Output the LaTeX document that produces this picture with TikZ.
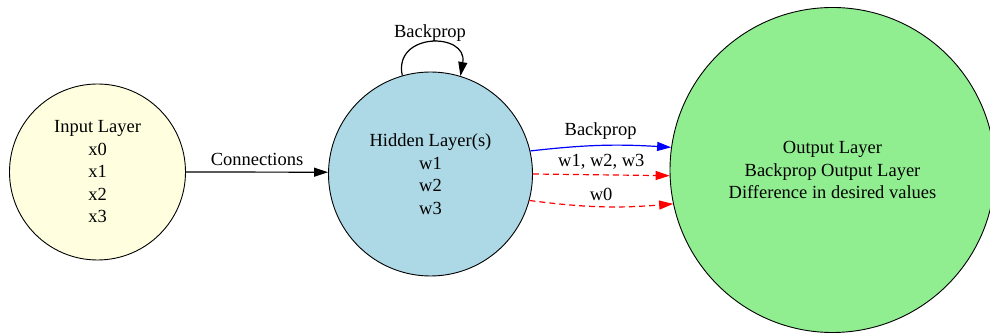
\documentclass[tikz,border=0pt]{standalone}
\usepackage{fontspec}
\setmainfont{Liberation Serif}
\usetikzlibrary{arrows.meta}
\definecolor{inyellow}{HTML}{FFFFE0}
\definecolor{hidblue}{HTML}{ADD8E6}
\definecolor{outgreen}{HTML}{90EE90}
\tikzset{
  layer/.style={circle, draw=black, line width=0.9pt, align=center, inner sep=0pt,
    font=\fontsize{18.5}{22.5}\selectfont},
  lbl/.style={font=\fontsize{18.5}{22.5}\selectfont, inner sep=0pt},
  conn/.style={line width=1.2pt, -{Triangle[length=14pt,width=9pt]}},
  dsh/.style={conn, dash pattern=on 6pt off 4pt},
}
\begin{document}
\begin{tikzpicture}[x=1pt,y=1pt]
\useasboundingbox (0,0) rectangle (990,334);
\fill[white] (0,0) rectangle (990,334);
\node[layer, fill=inyellow, minimum size=176pt] (inp) at (97.5,162) {Input Layer\\x0\\x1\\x2\\x3};
\node[layer, fill=hidblue, minimum size=204pt] (hid) at (430.5,160) {Hidden Layer(s)\\w1\\w2\\w3};
\node[layer, fill=outgreen, minimum size=325pt] (out) at (832.5,164) {Output Layer\\Backprop Output Layer\\Difference in desired values};

\draw[conn] (inp.east) -- node[lbl, above=6pt] (lc) {Connections} (hid.179);
\draw[conn] (hid.106) .. controls (393,302) and (468,302) .. (hid.73);
\node[lbl] (lb) at (430,301) {Backprop};
\draw[conn, blue] (hid.13) to[bend left=5] node[lbl, black, above=5pt] (lbb) {Backprop} (out.172);
\draw[dsh, red] (hid.0) -- node[lbl, black, above=5pt] (lw) {w1, w2, w3} (out.182);
\draw[dsh, red] (hid.-15) to[bend right=6] node[lbl, black, above=5pt] (lw0) {w0} (out.192);
\end{tikzpicture}
\end{document}
